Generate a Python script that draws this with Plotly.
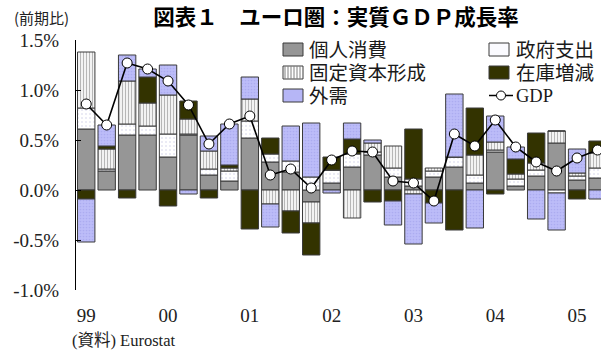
import plotly.graph_objects as go

# Euro area real GDP growth (q/q, %) and contributions by expenditure component
quarters = [
    "1999Q1", "1999Q2", "1999Q3", "1999Q4",
    "2000Q1", "2000Q2", "2000Q3", "2000Q4",
    "2001Q1", "2001Q2", "2001Q3", "2001Q4",
    "2002Q1", "2002Q2", "2002Q3", "2002Q4",
    "2003Q1", "2003Q2", "2003Q3", "2003Q4",
    "2004Q1", "2004Q2", "2004Q3", "2004Q4",
    "2005Q1", "2005Q2",
]
year_labels = ["99", "00", "01", "02", "03", "04", "05"]

private_consumption = [0.61, 0.19, 0.55, 0.55, 0.33, 0.55, 0.15, 0.09,
                       0.52, 0.28, 0.18, -0.12, 0.07, 0.23, 0.35, 0.13,
                       0.04, 0.13, 0.23, 0.07, 0.38, 0.04, 0.14, 0.47,
                       0.10, 0.12]
government = [0.21, 0.02, 0.11, 0.09, 0.23, 0.01, 0.06, 0.10,
              0.17, 0.08, 0.11, 0.13, 0.13, 0.13, 0.03, 0.09,
              0.07, 0.06, 0.10, 0.08, 0.02, 0.07, 0.06, -0.03,
              0.04, 0.10]
fixed_investment = [0.56, 0.20, 0.43, 0.23, 0.39, 0.15, 0.18, 0.03,
                    0.22, -0.14, -0.21, -0.21, 0.00, -0.28, 0.09, 0.22,
                    -0.04, 0.03, 0.00, 0.20, 0.08, 0.05, 0.07, 0.12,
                    0.03, 0.15]
inventories = [-0.09, 0.03, -0.08, 0.26, -0.16, 0.18, -0.08, 0.03,
               -0.39, 0.16, -0.22, -0.32, 0.13, 0.15, -0.12, -0.11,
               0.50, -0.13, -0.40, 0.47, -0.04, 0.15, 0.30, 0.00,
               -0.09, 0.12]
net_exports = [-0.43, 0.21, 0.26, 0.08, 0.30, -0.04, 0.15, 0.41,
               0.22, -0.23, 0.35, 0.54, -0.03, 0.16, 0.03, -0.24,
               -0.50, -0.20, 0.63, -0.38, 0.26, 0.12, -0.29, -0.37,
               0.24, -0.09]
gdp = [0.86, 0.65, 1.27, 1.21, 1.09, 0.85, 0.46, 0.66,
       0.74, 0.15, 0.21, 0.02, 0.30, 0.39, 0.38, 0.09,
       0.07, -0.11, 0.56, 0.44, 0.70, 0.43, 0.28, 0.19,
       0.32, 0.40]

x = list(range(len(quarters)))
year_ticks = [i for i, q in enumerate(quarters) if q.endswith("Q1")]
boundaries = [i + 0.5 for i in x]

# colours / styles
GRAY = "#969696"
DARK = "#333300"
BLUE = "#b6b6f6"
EDGE_COLOR = "#3a3a3a"
EDGE = dict(color=EDGE_COLOR, width=1)
SERIF = "Liberation Serif, Noto Sans CJK JP, serif"
GOTHIC = "Noto Sans CJK JP, sans-serif"
LEGEND_FONT = "Liberation Sans, Noto Sans CJK JP, sans-serif"

# figure geometry (pixels)
W, H = 601, 352
ML, MR, MT, MB = 76, 0, 40, 62
PW, PH = W - ML - MR, H - MT - MB


def px(xp):
    """Horizontal pixel position -> paper fraction."""
    return (xp - ML) / PW


def py(yp):
    """Vertical pixel position (from top) -> paper fraction."""
    return (H - MB - yp) / PH


stripes = dict(shape="|", fgcolor="#707070", bgcolor="#ffffff", size=3, solidity=0.45)
dots_white = dict(shape=".", fgcolor="#c9c9e6", bgcolor="#ffffff", size=4, solidity=0.2)
dots_blue = dict(shape=".", fgcolor="#9c9ce8", bgcolor="#bcbcf8", size=3, solidity=0.25)

fig = go.Figure()
fig.add_trace(go.Bar(x=x, y=private_consumption, name="個人消費",
                     marker=dict(color=GRAY, line=EDGE)))
fig.add_trace(go.Bar(x=x, y=government, name="政府支出",
                     marker=dict(color="#ffffff", line=EDGE, pattern=dots_white)))
fig.add_trace(go.Bar(x=x, y=fixed_investment, name="固定資本形成",
                     marker=dict(color="#ffffff", line=EDGE, pattern=stripes)))
fig.add_trace(go.Bar(x=x, y=inventories, name="在庫増減",
                     marker=dict(color=DARK, line=EDGE)))
fig.add_trace(go.Bar(x=x, y=net_exports, name="外需",
                     marker=dict(color=BLUE, line=EDGE, pattern=dots_blue)))
fig.add_trace(go.Scatter(
    x=x, y=gdp, name="GDP", mode="lines+markers",
    line=dict(color="#000000", width=1.6),
    marker=dict(symbol="circle", size=10, color="#ffffff",
                line=dict(color="#000000", width=1)),
))

# ---- hand-laid two-column legend ----
shapes = []
annotations = []
box_w, box_h = 20, 13
col_box = [283, 489]
col_text = [308, 515]
row_y = [49.5, 72.5, 95.5]


def box(col, row, fill):
    x0 = col_box[col]
    y0 = row_y[row] - box_h / 2
    shapes.append(dict(type="rect", xref="paper", yref="paper",
                       x0=px(x0), x1=px(x0 + box_w), y0=py(y0 + box_h), y1=py(y0),
                       fillcolor=fill, line=dict(color=EDGE_COLOR, width=1)))
    return x0, y0


def label(col, row, text, family=LEGEND_FONT, size=19.5):
    annotations.append(dict(text=text, xref="paper", yref="paper",
                            x=px(col_text[col]), y=py(row_y[row]),
                            xanchor="left", yanchor="middle", showarrow=False,
                            borderpad=0,
                            font=dict(family=family, size=size, color="#1a1a1a")))


box(0, 0, GRAY)
label(0, 0, "個人消費")

bx, by = box(0, 1, "#ffffff")
stripe_path = "".join(
    f"M{px(bx + s)},{py(by)}L{px(bx + s)},{py(by + box_h)}"
    for s in range(2, box_w, 3)
)
shapes.append(dict(type="path", xref="paper", yref="paper", path=stripe_path,
                   line=dict(color="#808080", width=1)))
label(0, 1, "固定資本形成")

box(0, 2, BLUE)
label(0, 2, "外需")

box(1, 0, "#fbfbff")
label(1, 0, "政府支出")

box(1, 1, DARK)
label(1, 1, "在庫増減")

gy = row_y[2]
shapes.append(dict(type="line", xref="paper", yref="paper",
                   x0=px(col_box[1]), x1=px(col_box[1] + 24), y0=py(gy), y1=py(gy),
                   line=dict(color="#000000", width=1.5)))
shapes.append(dict(type="circle", xref="paper", yref="paper",
                   x0=px(col_box[1] + 7.5), x1=px(col_box[1] + 16.5),
                   y0=py(gy + 4.5), y1=py(gy - 4.5),
                   fillcolor="#ffffff", line=dict(color="#000000", width=1)))
label(1, 2, "GDP", family=SERIF, size=18.5)

# ---- other text ----
annotations.append(dict(text="(前期比)", xref="paper", yref="paper",
                        x=px(12), y=py(18), xanchor="left", yanchor="middle",
                        showarrow=False,
                        font=dict(family=GOTHIC, size=15, color="#222222")))
annotations.append(dict(text="(資料) Eurostat", xref="paper", yref="paper",
                        x=px(70), y=py(340), xanchor="left", yanchor="middle",
                        showarrow=False,
                        font=dict(family=SERIF, size=16.5, color="#222222")))

x_range = [-0.5, 25.17]

fig.update_layout(
    width=W, height=H,
    margin=dict(l=ML, r=MR, t=MT, b=MB),
    paper_bgcolor="#ffffff", plot_bgcolor="#ffffff",
    barmode="relative", bargap=0.15,
    showlegend=False,
    title=dict(
        text="<b>図表１　ユーロ圏：実質ＧＤＰ成長率</b>",
        x=336 / W, xanchor="center", y=1 - 17 / H, yanchor="middle",
        font=dict(family=GOTHIC, size=21.5, color="#000000"),
    ),
    xaxis=dict(
        range=x_range, showline=False, zeroline=False, showgrid=False,
        tickmode="array", tickvals=year_ticks, ticktext=year_labels,
        ticks="", ticklabelstandoff=12,
        tickfont=dict(family=SERIF, size=19, color="#222222"),
    ),
    xaxis2=dict(
        overlaying="x", anchor="free", position=0.4, side="bottom",
        range=x_range, showgrid=False, zeroline=False,
        showline=True, linecolor="#000000", linewidth=1,
        tickmode="array", tickvals=boundaries, ticks="inside",
        ticklen=5, tickwidth=3, tickcolor="#7a7a7a",
        showticklabels=False,
    ),
    yaxis=dict(
        range=[-1.0, 1.5], tickmode="array",
        tickvals=[1.5, 1.0, 0.5, 0.0, -0.5, -1.0],
        ticktext=["1.5%", "1.0%", "0.5%", "0.0%", "-0.5%", "-1.0%"],
        showline=True, linecolor="#000000", linewidth=1,
        ticks="inside", ticklen=5, tickcolor="#000000",
        showgrid=False, zeroline=False, ticklabelstandoff=12,
        tickfont=dict(family=SERIF, size=19, color="#222222"),
    ),
    shapes=shapes,
    annotations=annotations,
)

fig.write_html("out.html")
